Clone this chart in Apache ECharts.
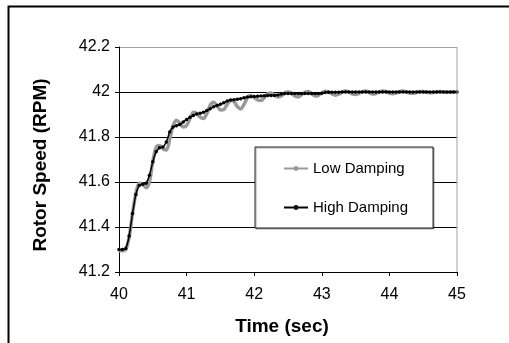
<!DOCTYPE html>
<html>
<head>
<meta charset="utf-8">
<script src="https://cdn.jsdelivr.net/npm/echarts@6/dist/echarts.min.js"></script>
<style>
html,body{margin:0;padding:0;background:#fff;}
#chart{width:509px;height:343px;}
</style>
</head>
<body>
<div id="chart"></div>
<script>
// Time samples (sec), every 0.05 s from 40 to 45
const timeStart = 40;
const timeStep = 0.05;

const lowDamping = [
  41.295, 41.295, 41.300, 41.355, 41.460, 41.550, 41.595, 41.590, 41.575, 41.600,
  41.690, 41.755, 41.762, 41.748, 41.742, 41.790, 41.850, 41.874, 41.862, 41.845,
  41.852, 41.882, 41.910, 41.905, 41.888, 41.882, 41.905, 41.942, 41.955, 41.940,
  41.920, 41.922, 41.945, 41.962, 41.958, 41.935, 41.925, 41.945, 41.975, 41.985,
  41.975, 41.965, 41.962, 41.975, 41.992, 41.996, 41.988, 41.978, 41.982, 41.995,
  42.000, 41.995, 41.982, 41.978, 41.988, 41.998, 42.002, 41.993, 41.982, 41.985,
  41.996, 42.003, 42.000, 41.992, 41.986, 41.990, 41.999, 42.004, 42.000, 41.992,
  41.989, 41.994, 42.002, 42.004, 41.998, 41.991, 41.993, 42.000, 42.004, 42.002,
  41.995, 41.992, 41.996, 42.002, 42.004, 42.000, 41.995, 41.994, 41.998, 42.002,
  42.002, 41.999, 41.997, 41.998, 42.001, 42.002, 42.000, 41.999, 41.999, 42.000,
  42.000
];

const highDamping = [
  41.300, 41.300, 41.305, 41.360, 41.460, 41.545, 41.585, 41.590, 41.595, 41.630,
  41.690, 41.735, 41.752, 41.756, 41.778, 41.822, 41.844, 41.850, 41.856, 41.867,
  41.878, 41.888, 41.896, 41.902, 41.906, 41.910, 41.918, 41.926, 41.934, 41.940,
  41.946, 41.952, 41.960, 41.964, 41.966, 41.968, 41.970, 41.974, 41.978, 41.979,
  41.980, 41.981, 41.982, 41.983, 41.984, 41.985, 41.985, 41.987, 41.991, 41.993,
  41.993, 41.993, 41.993, 41.993, 41.993, 41.993, 41.993, 41.993, 41.993, 41.993,
  41.994, 41.998, 41.999, 41.999, 41.999, 41.999, 42.000, 42.000, 42.000, 42.000,
  42.000, 42.000, 42.000, 42.000, 42.000, 42.000, 42.000, 42.000, 42.000, 42.000,
  42.000, 42.000, 42.000, 42.000, 42.000, 42.000, 42.000, 42.000, 42.000, 42.000,
  42.000, 42.000, 42.000, 42.000, 42.000, 42.000, 42.000, 42.000, 42.000, 42.000,
  42.000
];

const xTicks = [40, 41, 42, 43, 44, 45];
const yTicks = [41.2, 41.4, 41.6, 41.8, 42, 42.2];

function pairs(vals) {
  return vals.map((v, i) => [+(timeStart + i * timeStep).toFixed(3), v]);
}

const font = 'Liberation Sans, Arial, sans-serif';
const chart = echarts.init(document.getElementById('chart'), null, {renderer: 'canvas'});
chart.setOption({
  animation: false,
  backgroundColor: '#fff',
  grid: {left: 119, top: 47, right: 52, bottom: 71, show: false},
  xAxis: {
    type: 'value', min: xTicks[0], max: xTicks[xTicks.length - 1], interval: 1,
    axisLine: {show: true, onZero: false, lineStyle: {color: '#000', width: 1}},
    axisTick: {show: true, length: 4, lineStyle: {color: '#000'}},
    axisLabel: {color: '#000', fontSize: 16, fontFamily: font, margin: 15},
    splitLine: {show: false}
  },
  yAxis: {
    type: 'value', min: yTicks[0], max: yTicks[yTicks.length - 1], interval: 0.2,
    axisLine: {show: true, lineStyle: {color: '#000', width: 1}},
    axisTick: {show: true, length: 4, lineStyle: {color: '#000'}},
    axisLabel: {color: '#000', fontSize: 16, fontFamily: font, margin: 9,
      formatter: v => String(+v.toFixed(1))},
    splitLine: {show: true, lineStyle: {color: ['#000', '#000', '#000', '#000', '#000', '#a0a0a0'], width: 1}}
  },
  legend: {
    orient: 'vertical', left: 255, top: 147,
    padding: [14, 25, 13, 28], itemGap: 24,
    itemWidth: 24, itemHeight: 6,
    backgroundColor: '#fff', borderColor: '#222', borderWidth: 1,
    shadowColor: 'rgba(0,0,0,0.35)', shadowOffsetX: 1, shadowOffsetY: 1,
    textStyle: {color: '#000', fontSize: 15, fontFamily: font},
    data: [
      {name: 'Low Damping'},
      {name: 'High Damping'}
    ]
  },
  graphic: [
    {type: 'line', z: 100, silent: true,
      shape: {x1: 457, y1: 47, x2: 457, y2: 272},
      style: {stroke: '#a0a0a0', lineWidth: 1}},
    {type: 'polyline', z: -1, silent: true,
      shape: {points: [[8.5, 343], [8.5, 6.5], [509, 6.5]]},
      style: {fill: null, stroke: '#000', lineWidth: 2}},
    {type: 'text', silent: true, x: 282, y: 327,
      style: {text: 'Time (sec)', font: 'bold 19px ' + font, fill: '#000',
        textAlign: 'center', textVerticalAlign: 'middle'}},
    {type: 'text', silent: true, x: 41, y: 165, rotation: Math.PI / 2,
      style: {text: 'Rotor Speed (RPM)', font: 'bold 19px ' + font, fill: '#000',
        textAlign: 'center', textVerticalAlign: 'middle'}}
  ],
  series: [
    {
      name: 'Low Damping', type: 'line', data: pairs(lowDamping),
      smooth: 0.3, symbol: 'circle', symbolSize: 2, showSymbol: true,
      lineStyle: {color: '#999', width: 3.5},
      itemStyle: {color: '#999'}, z: 2
    },
    {
      name: 'High Damping', type: 'line', data: pairs(highDamping),
      smooth: 0.2, symbol: 'circle', symbolSize: 3.5, showSymbol: true,
      lineStyle: {color: '#000', width: 1.5},
      itemStyle: {color: '#000'}, z: 3
    }
  ]
});
</script>
</body>
</html>
